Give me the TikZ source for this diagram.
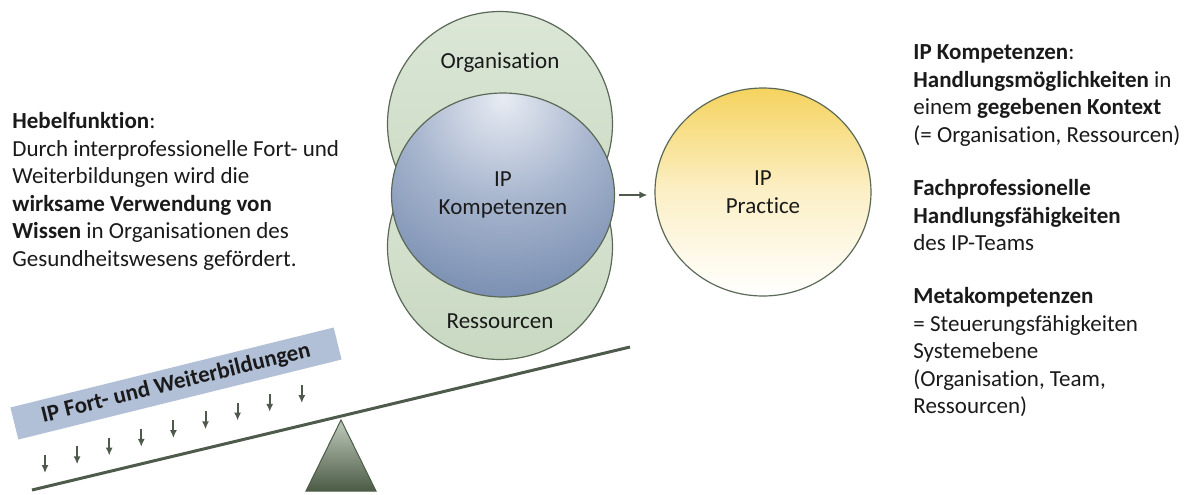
\documentclass[tikz,border=0pt]{standalone}
\usepackage{fontspec}
\setmainfont{Carlito}[Ligatures=NoCommon]
\usetikzlibrary{shapes.geometric,arrows.meta}
\definecolor{txt}{HTML}{1A1A1A}
\definecolor{greenA}{HTML}{DCE7D7}
\definecolor{greenB}{HTML}{C8D8C1}
\definecolor{rim}{HTML}{5A6957}
\definecolor{blueA}{HTML}{E8ECF3}
\definecolor{blueB}{HTML}{A8B6CE}
\definecolor{blueC}{HTML}{7A8FB2}
\definecolor{blueD}{HTML}{5F769B}
\definecolor{gold}{HTML}{F5D35E}
\definecolor{barblue}{HTML}{B2C0D7}
\definecolor{wedgeA}{HTML}{C0CABC}
\definecolor{wedgeB}{HTML}{4B5B45}
\definecolor{darkline}{HTML}{4E5A4B}
\pgfdeclareradialshading{kompshade}{\pgfpoint{0bp}{24bp}}{color(0bp)=(blueA); color(20bp)=(blueB); color(40bp)=(blueC); color(60bp)=(blueD); color(100bp)=(blueD)}
\begin{document}
\begin{tikzpicture}[x=0.5pt, y=-0.5pt, >={Latex[length=4pt,width=3.6pt]},
    every node/.style={font=\fontsize{11.5}{13.75}\selectfont, text=txt, inner sep=0pt},
    ctxcircle/.style={ellipse, draw=rim, line width=0.6pt, top color=greenA, bottom color=greenB, minimum width=112.5pt, minimum height=112.5pt},
    kompcircle/.style={ellipse, draw=rim, line width=0.6pt, shading=kompshade, minimum width=111.5pt, minimum height=102pt, align=center},
    practcircle/.style={ellipse, draw=rim, line width=0.6pt, top color=gold, bottom color=white, middle color=gold!35, minimum width=108pt, minimum height=104pt, align=center},
    note/.style={anchor=north west, align=left},
    force/.style={->, darkline, line width=1pt}]
\useasboundingbox (0,0) rectangle (1191,494);
% circles
\node[ctxcircle] (org) at (500,124) {};
\node[ctxcircle] (res) at (500,247) {};
\node[kompcircle] (komp) at (503,195) {IP\\Kompetenzen};
\node[practcircle] (pract) at (763,192) {IP\\Practice};
\node[anchor=base] (orglabel) at (500,68) {Organisation};
\node[anchor=base] (reslabel) at (500,328) {Ressourcen};
\draw[->, darkline, line width=0.9pt] ([xshift=2pt]komp.east) -- ([xshift=-3.5pt]komp.east -| pract.west);
% lever
\coordinate (leverL) at (32,490);
\coordinate (leverR) at (630,347);
\draw[top color=wedgeA, bottom color=wedgeB, draw=wedgeB, line width=0.5pt] (306,491) -- (341,420) -- (376,491) -- cycle;
\draw[darkline, line width=1.5pt] (leverL) -- (leverR);
\node[fill=barblue, rotate=13.9, minimum width=166.5pt, minimum height=16.5pt] (bar) at (176,383.5) {\bfseries IP Fort- und Weiterbildungen};
\foreach \i in {0,...,8}{
  \coordinate (f\i) at (45+32.1*\i, 455-8.75*\i);
  \draw[force] (f\i) -- ++(0,18);
}
% texts
\node[note] (hebel) at (12,112) {\textbf{Hebelfunktion}:\\Durch interprofessionelle Fort- und\\Weiterbildungen wird die\\\textbf{wirksame Verwendung von}\\\textbf{Wissen} in Organisationen des\\Gesundheitswesens gefördert.};
\node[note] (kompnote) at (913,44.5) {\textbf{IP Kompetenzen}:\\\textbf{Handlungsmöglichkeiten} in\\einem \textbf{gegebenen Kontext}\\(= Organisation, Ressourcen)};
\node[note] (fachnote) at (913,179) {\textbf{Fachprofessionelle}\\\textbf{Handlungsfähigkeiten}\\des IP-Teams};
\node[note] (metanote) at (913,287) {\textbf{Metakompetenzen}\\= Steuerungsfähigkeiten\\Systemebene\\(Organisation, Team,\\Ressourcen)};
\end{tikzpicture}
\end{document}
